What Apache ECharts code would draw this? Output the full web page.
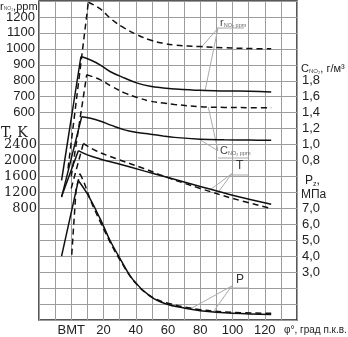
<!DOCTYPE html>
<html>
<head>
<meta charset="utf-8">
<script src="https://cdn.jsdelivr.net/npm/echarts@6/dist/echarts.min.js"></script>
<style>
html, body { margin: 0; padding: 0; background: #fff; }
#chart { width: 348px; height: 337px; }
</style>
</head>
<body>
<div id="chart"></div>
<script>
// angle of crank, degrees (0 = ВМТ)
var xTicks = [0, 20, 40, 60, 80, 100, 120];

// r NO, ppm : solid (mode 1), dashed (mode 2)
var rnoSolid  = [[-6, 175], [6, 952], [12, 930], [17.8, 900], [24, 858], [33, 817], [41, 785], [49, 765], [57, 755], [64, 749], [80, 740], [95, 736], [111, 734], [124, 730]];
var rnoDashed = [[-2, 250], [10.6, 1292], [17.8, 1252], [25, 1185], [33, 1130], [41, 1088], [49, 1055], [57, 1035], [64, 1024], [80, 1014], [95, 1007], [111, 1002], [124, 1000]];

// C NO, g/m3
var cSolid  = [[-6, 0.34], [6.5, 1.35], [12, 1.33], [17.8, 1.296], [25, 1.24], [33, 1.184], [41, 1.15], [49, 1.13], [57, 1.108], [64, 1.09], [80, 1.068], [95, 1.06], [111, 1.056], [124, 1.055]];
var cDashed = [[0, 0.6], [9.6, 1.876], [17.8, 1.814], [25, 1.73], [33, 1.648], [41, 1.59], [49, 1.544], [57, 1.52], [64, 1.503], [80, 1.474], [95, 1.466], [111, 1.462], [124, 1.46]];

// T, K
var tSolid  = [[-6, 1100], [4.4, 2246], [10, 2140], [17.8, 2040], [28, 1930], [45, 1740], [60, 1575], [80, 1350], [100, 1130], [124, 904]];
var tDashed = [[0, 1300], [7.5, 2428], [15, 2250], [28.2, 2040], [45, 1800], [60, 1570], [80, 1300], [100, 1050], [124, 799]];

// Pz, MPa
var pSolid  = [[-6, 4.0], [4.4, 8.75], [10, 7.9], [17.8, 6.37], [24, 5.0], [30, 3.9], [38.5, 2.5], [48.8, 1.5], [59, 1.0], [70, 0.75], [80, 0.58], [100, 0.42], [124, 0.35]];
var pDashed = [[0.3, 4.1], [3, 8.2], [5.4, 9.17], [8, 8.6], [12, 7.5], [17.8, 6.2], [24, 4.9], [30, 3.8], [40, 2.3], [50, 1.45], [60, 1.05], [80, 0.65], [100, 0.48], [124, 0.42]];

// leader lines of the annotations, in ppm-axis units
var leaders = [
  [[91, 1130], [81, 1014]],
  [[91, 1130], [83, 739]],
  [[91, 361], [85, 635]],
  [[91, 361], [79, 435]],
  [[99.5, 217], [86, 115]],
  [[99.5, 217], [90, 85]],
  [[99.5, -487], [73.6, -632]],
  [[99.5, -487], [88, -650]]
];

var chart = echarts.init(document.getElementById('chart'));

var sans = 'Liberation Sans, Arial, sans-serif';
var serif = 'DejaVu Serif, serif';
var gridColor = '#9c9c9c';

function inRange(v, a, b) { return v >= a - 1e-6 && v <= b + 1e-6; }

function peakIndex(data) {
  var k = 0;
  for (var i = 1; i < data.length; i++) if (data[i][1] > data[k][1]) k = i;
  return k;
}

// rise drawn straight, decay drawn smooth
function curve(data, yIdx, dashed) {
  var k = peakIndex(data);
  var style = { color: '#111', width: 1.5, type: dashed ? [6, 4] : 'solid' };
  return [
    { type: 'line', data: data.slice(0, k + 1), yAxisIndex: yIdx, showSymbol: false, symbol: 'none', silent: true, z: 5, lineStyle: style },
    { type: 'line', data: data.slice(k), yAxisIndex: yIdx, showSymbol: false, symbol: 'none', silent: true, z: 5,
      smooth: 0.4, lineStyle: style }
  ];
}

var series = [].concat(
  curve(rnoSolid, 0, false), curve(rnoDashed, 0, true),
  curve(cSolid, 2, false), curve(cDashed, 2, true),
  curve(tSolid, 1, false), curve(tDashed, 1, true),
  curve(pSolid, 3, false), curve(pDashed, 3, true)
);
leaders.forEach(function (seg) {
  series.push({
    type: 'line', data: seg, yAxisIndex: 0, showSymbol: false, symbol: 'none', silent: true, z: 3,
    lineStyle: { color: '#aaa', width: 1 }
  });
});

var option = {
  animation: false,
  grid: { left: 39, right: 51, top: 1, bottom: 15, show: true, borderColor: '#222', borderWidth: 1.5 },
  xAxis: {
    type: 'value', min: -20, max: 140, interval: 10,
    axisLine: { show: false }, axisTick: { show: false },
    splitLine: { show: true, lineStyle: { color: gridColor, width: 1 } },
    axisLabel: {
      margin: 4, color: '#222', fontFamily: sans, fontSize: 13,
      formatter: function (v) {
        if (v === 0) return 'ВМТ';
        if (xTicks.indexOf(v) >= 0) return String(v);
        return '';
      }
    }
  },
  yAxis: [
    {
      type: 'value', min: -700, max: 1300, interval: 100, position: 'left',
      axisLine: { show: false }, axisTick: { show: false },
      splitLine: { show: true, lineStyle: { color: gridColor, width: 1 } },
      axisLabel: {
        margin: 4, color: '#222', fontFamily: sans, fontSize: 13,
        formatter: function (v) { return inRange(v, 600, 1200) ? String(v) : ''; }
      }
    },
    {
      type: 'value', min: -2000, max: 6000, interval: 400, position: 'left',
      axisLine: { show: false }, axisTick: { show: false }, splitLine: { show: false },
      axisLabel: {
        margin: 2, color: '#222', fontFamily: serif, fontSize: 13,
        formatter: function (v) { return inRange(v, 800, 2400) ? String(v) : ''; }
      }
    },
    {
      type: 'value', min: -1.2, max: 2.8, interval: 0.2, position: 'right',
      axisLine: { show: false }, axisTick: { show: false }, splitLine: { show: false },
      axisLabel: {
        margin: 5, color: '#222', fontFamily: sans, fontSize: 13,
        formatter: function (v) { return inRange(v, 0.8, 1.8) ? v.toFixed(1).replace('.', ',') : ''; }
      }
    },
    {
      type: 'value', min: 0, max: 20, interval: 1, position: 'right',
      axisLine: { show: false }, axisTick: { show: false }, splitLine: { show: false },
      axisLabel: {
        margin: 5, color: '#222', fontFamily: sans, fontSize: 13,
        formatter: function (v) { return inRange(v, 3, 7) ? v.toFixed(1).replace('.', ',') : ''; }
      }
    }
  ],
  graphic: [
    { type: 'text', left: 0, top: 1, style: { text: '{a|r}{s|NO₂}{a|,ppm}', rich: { a: { fontFamily: sans, fontSize: 11, fill: '#222' }, s: { fontFamily: sans, fontSize: 5, fill: '#555', padding: [5, 0, 0, 0] } } } },
    { type: 'text', left: 1, top: 126, style: { text: 'T, K', fontFamily: serif, fontSize: 14, fill: '#222' } },
    { type: 'text', left: 301, top: 63, style: { text: '{a|C}{s|NO₂}{a|, г/м³}', rich: { a: { fontFamily: sans, fontSize: 11, fill: '#222' }, s: { fontFamily: sans, fontSize: 6, fill: '#444', padding: [6, 0, 0, 0] } } } },
    { type: 'text', left: 305, top: 175, style: { text: '{a|P}{s|z}{a|,}', rich: { a: { fontFamily: sans, fontSize: 12, fill: '#222' }, s: { fontFamily: sans, fontSize: 7, fill: '#222', padding: [6, 0, 0, 0] } } } },
    { type: 'text', left: 301, top: 189, style: { text: 'МПа', fontFamily: sans, fontSize: 12, fill: '#222' } },
    { type: 'text', left: 284, top: 325, style: { text: 'φ°, град п.к.в.', fontFamily: sans, fontSize: 10, fill: '#222' } },

    { type: 'text', left: 220, top: 17, z: 10, style: { text: '{a|r}{s|NO₂ ppm}', rich: { a: { fontFamily: sans, fontSize: 11, fill: '#444' }, s: { fontFamily: sans, fontSize: 5.5, fill: '#666', padding: [5, 0, 0, 0] } } } },
    { type: 'line', z: 10, shape: { x1: 217, y1: 28, x2: 244, y2: 28 }, style: { stroke: '#aaa', lineWidth: 1 } },
    { type: 'text', left: 220, top: 145, z: 10, style: { text: '{a|C}{s|NO₂ ppm}', rich: { a: { fontFamily: sans, fontSize: 11, fill: '#444' }, s: { fontFamily: sans, fontSize: 5.5, fill: '#666', padding: [5, 0, 0, 0] } } } },
    { type: 'line', z: 10, shape: { x1: 218, y1: 158, x2: 248, y2: 158 }, style: { stroke: '#aaa', lineWidth: 1 } },
    { type: 'text', left: 236, top: 160, z: 10, style: { text: 'T', fontFamily: sans, fontSize: 12, fill: '#333' } },
    { type: 'line', z: 10, shape: { x1: 231, y1: 175, x2: 248, y2: 175 }, style: { stroke: '#aaa', lineWidth: 1 } },
    { type: 'text', left: 236, top: 274, z: 10, style: { text: 'P', fontFamily: sans, fontSize: 12, fill: '#333' } },
    { type: 'line', z: 10, shape: { x1: 231, y1: 288, x2: 248, y2: 288 }, style: { stroke: '#aaa', lineWidth: 1 } }
  ],
  series: series
};

chart.setOption(option);
</script>
</body>
</html>
